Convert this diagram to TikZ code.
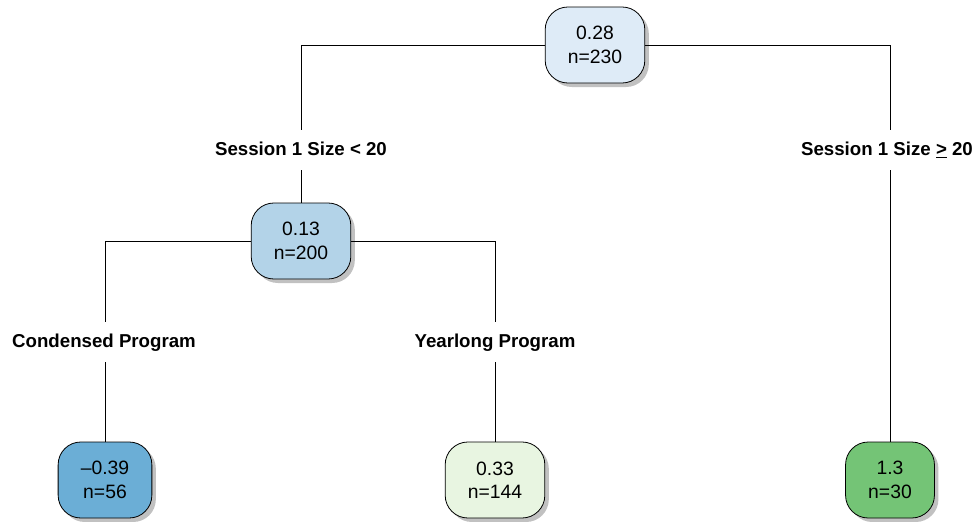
\documentclass[tikz,border=0pt]{standalone}
\usepackage{fontspec}
\setmainfont{Liberation Sans}
\usetikzlibrary{shadows}
\definecolor{cRoot}{HTML}{DEEBF7}
\definecolor{cMid}{HTML}{B3D3E8}
\definecolor{cLeafA}{HTML}{6BAED6}
\definecolor{cLeafB}{HTML}{E8F5E1}
\definecolor{cLeafC}{HTML}{74C476}
\tikzset{
  treenode/.style={draw=black, line width=0.6pt, rounded corners=17pt,
    align=center, inner xsep=17pt, minimum height=57pt,
    font=\fontsize{14.5}{17.5}\selectfont,
    drop shadow={shadow xshift=3pt, shadow yshift=-3pt, fill=black!30, opacity=0.8}},
  splitlabel/.style={font=\fontsize{14}{17}\selectfont\bfseries, inner sep=0pt,
    text height=11pt, text depth=3pt, outer ysep=8pt},
  branch/.style={line width=0.6pt, draw=black}
}
\begin{document}
\begin{tikzpicture}[x=0.75pt, y=-0.75pt]
  \useasboundingbox (0,0) rectangle (974,521);
  % tree nodes
  \node[treenode, fill=cRoot] (root) at (595,45) {0.28\\n=230};
  \node[treenode, fill=cMid] (mid) at (301,241) {0.13\\n=200};
  \node[treenode, fill=cLeafA] (leafA) at (105,480) {--0.39\\n=56};
  \node[treenode, fill=cLeafB] (leafB) at (495,480) {0.33\\n=144};
  \node[treenode, fill=cLeafC] (leafC) at (890,480) {1.3\\n=30};
  % split labels
  \node[splitlabel] (sL) at (301,150) {Session 1 Size < 20};
  \node[splitlabel] (sR) at (887,150) {Session 1 Size \underline{>} 20};
  \node[splitlabel] (cP) at (104,342) {Condensed Program};
  \node[splitlabel] (yP) at (495,342) {Yearlong Program};
  % connectors
  \draw[branch] (root.west) -| (sL.north -| mid.north);
  \draw[branch] (root.east) -| (leafC.north |- sR.north);
  \draw[branch] (sL.south -| mid.north) -- (mid.north);
  \draw[branch] (sR.south -| leafC.north) -- (leafC.north);
  \draw[branch] (mid.west) -| (cP.north -| leafA.north);
  \draw[branch] (mid.east) -| (yP.north -| leafB.north);
  \draw[branch] (cP.south -| leafA.north) -- (leafA.north);
  \draw[branch] (yP.south -| leafB.north) -- (leafB.north);
\end{tikzpicture}
\end{document}
